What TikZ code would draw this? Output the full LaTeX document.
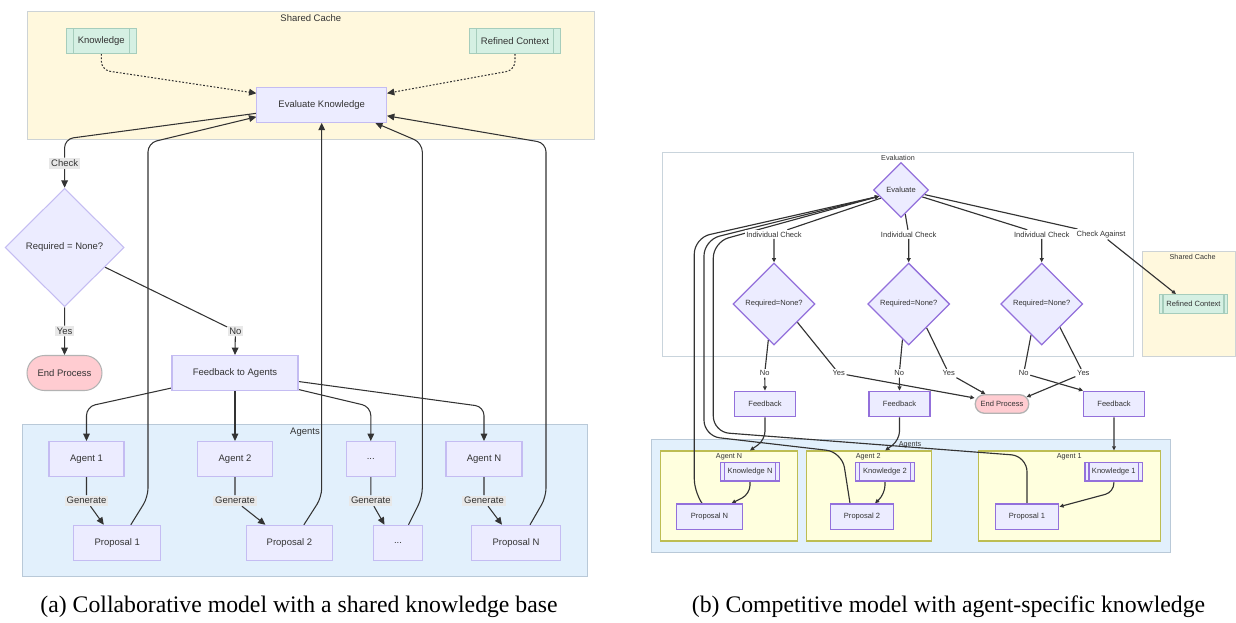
\documentclass[tikz,border=0pt]{standalone}
\usepackage{fontspec}
\setmainfont{Liberation Serif}
\setsansfont{Liberation Sans}
\usetikzlibrary{arrows.meta,shapes.geometric}

\definecolor{nodefill}{HTML}{ECECFF}
\definecolor{lborder}{HTML}{C4BCF2}
\definecolor{rborder}{HTML}{9370DB}
\definecolor{kfill}{HTML}{D5F0E3}
\definecolor{kborder}{HTML}{A6CDBC}
\definecolor{cachefill}{HTML}{FFF8DD}
\definecolor{cacheborder}{HTML}{CDD3D6}
\definecolor{agentsfill}{HTML}{E2F0FC}
\definecolor{agentsborder}{HTML}{B9C9D8}
\definecolor{subfill}{HTML}{FFFFDE}
\definecolor{subborder}{HTML}{BDBD52}
\definecolor{evalfill}{HTML}{FFFFFF}
\definecolor{evalborder}{HTML}{C9D4DC}
\definecolor{endfill}{HTML}{FFCCD1}
\definecolor{endborder}{HTML}{B3B3B3}
\definecolor{lblfill}{HTML}{E8E8E8}
\definecolor{linecol}{HTML}{333333}
\definecolor{txtcol}{HTML}{333333}

\newcommand{\lpanelfont}{\sffamily\fontsize{5.4}{6.5}\selectfont}
\newcommand{\rpanelfont}{\sffamily\fontsize{4.3}{5.2}\selectfont}
\newcommand{\rtitlefont}{\sffamily\fontsize{4.1}{5}\selectfont}

\pgfdeclarelayer{bg}
\pgfdeclarelayer{edges}
\pgfsetlayers{bg,edges,main}

\tikzset{
  lbox/.style={draw=lborder, fill=nodefill, line width=0.6pt, inner sep=0pt, text=txtcol, font=\lpanelfont, minimum height=0.7cm},
  rbox/.style={draw=rborder, fill=nodefill, line width=0.75pt, inner sep=0pt, text=txtcol, font=\rpanelfont, minimum height=0.51cm},
  ldiam/.style={lbox, diamond, minimum width=2.38cm, minimum height=2.37cm},
  rdiam/.style={rbox, diamond},
  subr/.style 2 args={path picture={\draw[#2] ([xshift=#1]path picture bounding box.north west) -- ([xshift=#1]path picture bounding box.south west) ([xshift=-#1]path picture bounding box.north east) -- ([xshift=-#1]path picture bounding box.south east);}},
  lknow/.style={lbox, draw=kborder, fill=kfill, minimum height=0.5cm, subr={3.7pt}{kborder, line width=0.6pt}},
  rknow/.style={rbox, minimum height=0.37cm, subr={2.2pt}{rborder, line width=0.75pt}},
  rgreen/.style={rbox, draw=kborder, fill=kfill, minimum height=0.37cm, subr={2.2pt}{kborder, line width=0.75pt}},
  lend/.style={lbox, draw=endborder, fill=endfill, rounded corners=0.35cm},
  rend/.style={rbox, draw=endborder, fill=endfill, rounded corners=0.18cm, minimum height=0.37cm},
  group/.style={draw=#1border, fill=#1fill, line width=0.6pt, inner sep=0pt},
  ltitle/.style={font=\lpanelfont, text=txtcol, inner sep=0pt},
  rtitle/.style={font=\rtitlefont, text=txtcol, inner sep=0pt},
  llab/.style={fill=lblfill, font=\lpanelfont, text=txtcol, inner sep=1pt},
  rlab/.style={fill=white, font=\rpanelfont, text=txtcol, inner sep=0.8pt},
  larr/.style={draw=linecol, line width=0.6pt, -{Triangle[length=4.2pt,width=3.8pt]}, rounded corners=5pt},
  rarr/.style={draw=linecol, line width=0.65pt, -{Triangle[length=2.4pt,width=2.2pt]}, rounded corners=5pt},
  dotarr/.style={larr, dash pattern=on 1pt off 1pt},
  capt/.style={font=\rmfamily\fontsize{13.5}{16}\selectfont, inner sep=0pt}
}

\begin{document}
\begin{tikzpicture}[x=0.02cm, y=-0.02cm]
  \useasboundingbox (0,0) rectangle (1236,622);

  \begin{pgfonlayer}{bg}
    \node[group=cache, minimum width=11.33cm, minimum height=2.55cm] (cacheL) at (310.85,75.35) {};
    \node[group=agents, minimum width=11.31cm, minimum height=3.05cm] (agentsL) at (305,500.5) {};
    \node[group=eval, minimum width=9.41cm, minimum height=4.09cm] (evalR) at (898.15,254.35) {};
    \node[group=cache, minimum width=1.85cm, minimum height=2.09cm] (cacheR) at (1188.85,303.85) {};
    \node[group=agents, minimum width=10.37cm, minimum height=2.26cm] (agentsR) at (910.85,495.8) {};
    \node[group=sub, minimum width=2.73cm, minimum height=1.8cm] (sgAN) at (729,496) {};
    \node[group=sub, minimum width=2.5cm, minimum height=1.8cm] (sgA2) at (869.2,496) {};
    \node[group=sub, minimum width=3.63cm, minimum height=1.8cm] (sgA1) at (1069.5,496) {};
  \end{pgfonlayer}

  \node[ltitle] (tcacheL) at (310.8,18.3) {Shared Cache};
  \node[ltitle] (tagentsL) at (305,432.3) {Agents};
  \node[rtitle] (tevalR) at (898,158) {Evaluation};
  \node[rtitle] (tcacheR) at (1192.7,257) {Shared Cache};
  \node[rtitle] (tagentsR) at (910,445) {Agents};
  \node[rtitle] (tagN) at (729,456.7) {Agent N};
  \node[rtitle] (tag2) at (868.3,456.7) {Agent 2};
  \node[rtitle] (tag1) at (1069.3,456.7) {Agent 1};

  \node[lknow, minimum width=1.39cm] (know) at (101.3,40.8) {Knowledge};
  \node[lknow, minimum width=1.81cm] (refctx) at (515,40.8) {Refined Context};
  \node[lbox, minimum width=2.59cm] (evalk) at (321.7,104.8) {Evaluate Knowledge};
  \node[ldiam] (req) at (64.6,247.5) {Required = None?};
  \node[lend, minimum width=1.5cm] (endp) at (64.5,373) {End Process};
  \node[lbox, minimum width=2.52cm] (fb) at (235,373) {Feedback to Agents};
  \node[lbox, minimum width=1.5cm] (ag1) at (86.5,459) {Agent 1};
  \node[lbox, minimum width=1.5cm] (ag2) at (235,459) {Agent 2};
  \node[lbox, minimum width=0.99cm] (agd) at (370.8,459) {...};
  \node[lbox, minimum width=1.52cm] (agN) at (484,459) {Agent N};
  \node[lbox, minimum width=1.74cm] (pr1) at (117.3,542.8) {Proposal 1};
  \node[lbox, minimum width=1.73cm] (pr2) at (289.4,542.8) {Proposal 2};
  \node[lbox, minimum width=0.97cm] (prd) at (398,542.8) {...};
  \node[lbox, minimum width=1.78cm] (prN) at (516,542.8) {Proposal N};

  \node[llab] (chk) at (64.6,163.3) {Check};
  \node[llab] (yes) at (64.6,331) {Yes};
  \node[llab] (no) at (235.4,331) {No};
  \foreach \x/\n in {86.5/1, 235/2, 370.8/3, 484/4}
    \node[llab] (gen\n) at (\x,500.7) {Generate};

  \node[rdiam, minimum width=1.1cm, minimum height=1.1cm] (ev) at (901,190) {Evaluate};
  \node[rdiam, minimum width=1.64cm, minimum height=1.64cm] (req1) at (774,304) {Required=None?};
  \node[rdiam, minimum width=1.64cm, minimum height=1.64cm] (req2) at (908.7,304) {Required=None?};
  \node[rdiam, minimum width=1.64cm, minimum height=1.64cm] (req3) at (1041.7,304) {Required=None?};
  \node[rbox, minimum width=1.23cm] (fb1) at (765,404) {Feedback};
  \node[rbox, minimum width=1.22cm] (fb2) at (899.5,404) {Feedback};
  \node[rbox, minimum width=1.21cm] (fb3) at (1114,404) {Feedback};
  \node[rend, minimum width=1.07cm] (endq) at (1002,404) {End Process};
  \node[rgreen, minimum width=1.37cm] (refq) at (1193.5,304) {Refined Context};
  \node[rknow, minimum width=1.17cm] (kN) at (750,471.7) {Knowledge N};
  \node[rknow, minimum width=1.17cm] (k2) at (885,471.7) {Knowledge 2};
  \node[rknow, minimum width=1.15cm] (k1) at (1113.8,471.7) {Knowledge 1};
  \node[rbox, minimum width=1.31cm] (pN) at (709.5,516.7) {Proposal N};
  \node[rbox, minimum width=1.27cm] (p2) at (862,516.7) {Proposal 2};
  \node[rbox, minimum width=1.27cm] (p1) at (1027,516.7) {Proposal 1};

  \node[rlab] (ic1) at (774,234.3) {Individual Check};
  \node[rlab] (ic2) at (908.7,234.3) {Individual Check};
  \node[rlab] (ic3) at (1041.7,234.3) {Individual Check};
  \node[rlab] (ca) at (1101,234.3) {Check Against};
  \node[rlab] (no1) at (764.7,373.3) {No};
  \node[rlab] (yes1) at (838.7,373.3) {Yes};
  \node[rlab] (no2) at (899.3,373.3) {No};
  \node[rlab] (yes2) at (948.7,373.3) {Yes};
  \node[rlab] (no3) at (1023.7,373.3) {No};
  \node[rlab] (yes3) at (1083.3,373.3) {Yes};

  \node[capt] (capa) at (299,607) {(a) Collaborative model with a shared knowledge base};
  \node[capt] (capb) at (948.5,607) {(b) Competitive model with agent-specific knowledge};

  \begin{pgfonlayer}{edges}
    \draw[dotarr] (know.south) -- (101.3,70) -- ([yshift=0.23cm]evalk.west);
    \draw[dotarr] (refctx.south) -- (515,70) -- ([yshift=0.23cm]evalk.east);
    \draw[larr] ([yshift=-0.17cm]evalk.west) -- (64.6,139) -- (chk) -- (req.north);
    \draw[larr] (req.south) -- (yes) -- (endp.north);
    \draw[larr] (req.-26) -- (no) -- (fb.north);
    \draw[larr] ([yshift=-0.3cm]fb.west) -- (86.5,406.7) -- (ag1.north);
    \draw[larr] (fb.south) -- (ag2.north);
    \draw[larr] ([yshift=-0.33cm]fb.east) -- (370.8,406.7) -- (agd.north);
    \draw[larr] ([yshift=-0.17cm]fb.east) -- (484,406.7) -- (agN.north);
    \draw[larr] (ag1.south) -- (gen1) -- ([xshift=-0.27cm]pr1.north);
    \draw[larr] (ag2.south) -- (gen2) -- ([xshift=-0.48cm]pr2.north);
    \draw[larr] (agd.south) -- (gen3) -- ([xshift=-0.27cm]prd.north);
    \draw[larr] (agN.south) -- (gen4) -- ([xshift=-0.28cm]prN.north);
    \draw[larr] ([xshift=0.27cm]pr1.north) -- (148,497) -- (148,143) -- ([yshift=-0.24cm]evalk.west);
    \draw[larr] ([xshift=0.29cm]pr2.north) -- (321.7,497) -- (evalk.south);
    \draw[larr] ([xshift=0.21cm]prd.north) -- (422.3,497) -- (422.3,143) -- ([xshift=1.07cm]evalk.south);
    \draw[larr] ([xshift=0.28cm]prN.north) -- (546,497) -- (546,143) -- ([yshift=-0.22cm]evalk.east);

    \draw[rarr] (ev.202) -- (ic1) -- (req1.north);
    \draw[rarr] (ev.-80) -- (ic2) -- (req2.north);
    \draw[rarr] (ev.-18) -- (ic3) -- (req3.north);
    \draw[rarr] (ev.-11) -- (ca) -- ([xshift=-0.35cm]refq.north);
    \draw[rarr] (req1.-99) -- (no1) -- (fb1.north);
    \draw[rarr] (req1.-38) -- (yes1) -- ([yshift=0.12cm]endq.west);
    \draw[rarr] (req2.-100) -- (no2) -- (fb2.north);
    \draw[rarr] (req2.-53) -- (yes2) -- ([xshift=-0.33cm]endq.north);
    \draw[rarr] (req3.-109) -- (no3) -- (fb3.north west);
    \draw[rarr] (req3.-52) -- (yes3) -- ([xshift=-0.06cm,yshift=-0.06cm]endq.north east);
    \draw[rarr] (fb1.south) -- (765,440) -- ([xshift=0.42cm]sgAN.north);
    \draw[rarr] (fb2.south) -- (899.5,440) -- ([xshift=0.32cm]sgA2.north);
    \draw[rarr] (fb3.south) -- ([xshift=0.89cm]sgA1.north);
    \draw[rarr] (kN.south) -- (750,494) -- ([xshift=0.44cm]pN.north);
    \draw[rarr] (k2.south) -- (885,494) -- ([xshift=0.26cm]p2.north);
    \draw[rarr] (k1.south) -- (1114,492) -- ([yshift=0.2cm]p1.east);
    \draw[rarr, rounded corners=9pt] ([xshift=-0.16cm]pN.north) -- (694.3,495) -- (694.3,238) -- (ev.196);
    \draw[rarr, rounded corners=9pt] ([xshift=-0.24cm]p2.north) -- (842,452) -- (704,436) -- (704,240) -- (ev.196);
    \draw[rarr, rounded corners=9pt] (p1.north) -- (1027,456) -- (713.3,432) -- (713.3,242) -- (ev.196);
  \end{pgfonlayer}
\end{tikzpicture}
\end{document}
